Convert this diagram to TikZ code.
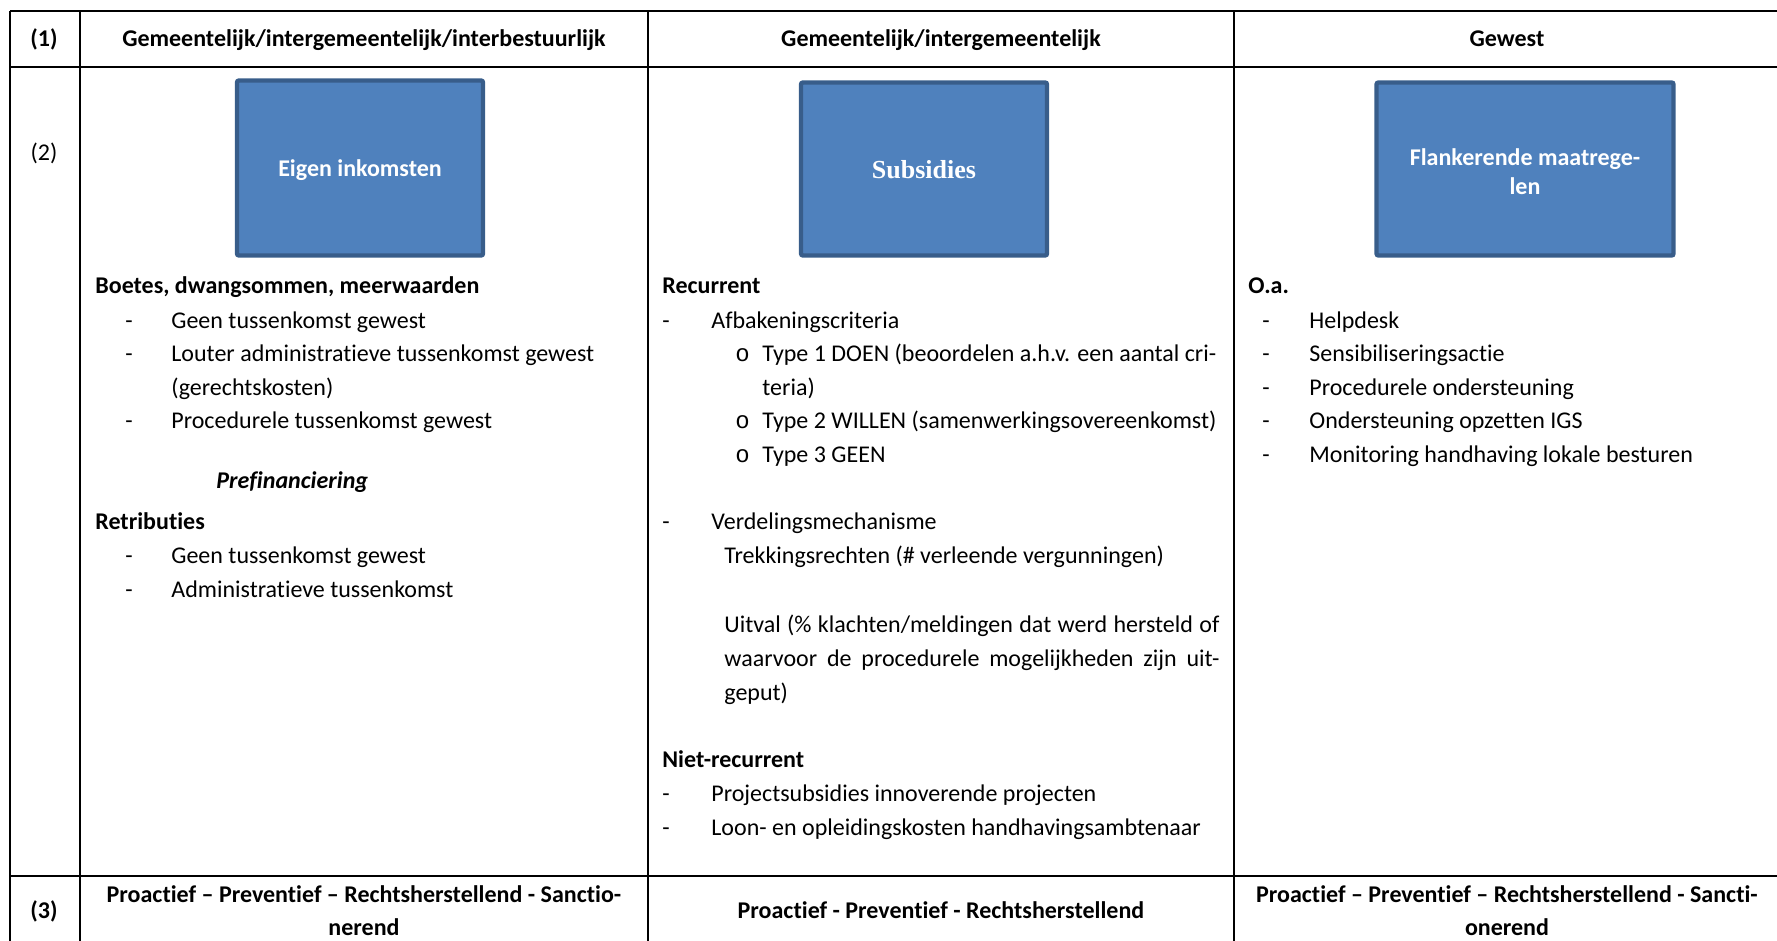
\documentclass[tikz,border=0pt]{standalone}
\usepackage{fontspec}
\setmainfont{Carlito}[Ligatures=NoCommon]
\newfontfamily\serifbox{Liberation Serif}
\newfontfamily\bulletfont{Liberation Mono}
\usepackage{xcolor}
\definecolor{boxblue}{HTML}{4F81BD}
\definecolor{boxedge}{HTML}{385D8A}
\newcommand{\listItem}[5]{%
  \node[txt] (#1Dash) at (#2,#4) {-};
  \node[txt] (#1) at (#3,#4) {#5};}
\newcommand{\subItem}[3]{%
  \node[txt] (#1Bul) at (735,#2) {\bulletfont o};
  \node[txt] (#1) at (762,#2) {#3};}

\begin{document}
\begin{tikzpicture}[x=0.5pt, y=-0.5pt,
    txt/.style={anchor=base west, inner sep=0pt, font=\fontsize{12}{14.5}\selectfont},
    hd/.style={txt, font=\fontsize{12}{14.5}\selectfont\bfseries},
    ctr/.style={anchor=base, inner sep=0pt, font=\fontsize{12}{14.5}\selectfont\bfseries},
    bluebox/.style={draw=boxedge, line width=2.2pt, fill=boxblue, rounded corners=1pt,
      text=white, align=center, inner sep=0pt, font=\fontsize{12}{14.5}\selectfont\bfseries},
    tableline/.style={line width=1.1pt}]
    \useasboundingbox (0,0) rectangle (1777,941);

    % Grid
    \draw[tableline] (10,11) -- (1777,11);
    \draw[tableline] (10,67) -- (1777,67);
    \draw[tableline, line width=1.4pt] (10,876) -- (1777,876);
    \foreach \xx in {10, 80, 648, 1234}
        \draw[tableline] (\xx,11) -- (\xx,941);

    % Blue boxes
    \node[bluebox, minimum width=123pt, minimum height=87.5pt, text height=10.5pt] (EigenBox) at (360,168) {Eigen inkomsten};
    \node[bluebox, minimum width=123pt, minimum height=86.5pt, text height=10pt, text depth=0pt,
      font=\serifbox\fontsize{13}{15}\selectfont\bfseries] (SubsBox) at (924,169) {Subsidies};
    \node[bluebox, minimum width=148.5pt, minimum height=86.5pt, text height=25.5pt] (FlankBox) at (1525,169) {Flankerende maatrege-\\len};

    \begin{scope}[yshift=-0.6pt]
    % Header row
    \node[ctr] (RowOne) at (44,45) {(1)};
    \node[ctr] (HeadLeft) at (364,45) {Gemeentelijk/intergemeentelijk/interbestuurlijk};
    \node[ctr] (HeadMid) at (941,45) {Gemeentelijk/intergemeentelijk};
    \node[ctr] (HeadRight) at (1507,45) {Gewest};
    \node[ctr, font=\fontsize{12}{14.5}\selectfont] (RowTwo) at (44,159) {(2)};

    % Left column
    \node[hd] (Boetes) at (95,292) {Boetes, dwangsommen, meerwaarden};
    \listItem{GeenA}{125}{171}{327}{Geen tussenkomst gewest}
    \listItem{Louter}{125}{171}{360}{Louter administratieve tussenkomst gewest}
    \node[txt] (Gerecht) at (171,394) {(gerechtskosten)};
    \listItem{ProcA}{125}{171}{427}{Procedurele tussenkomst gewest}
    \node[hd, font=\fontsize{12}{14.5}\selectfont\bfseries\itshape] (Prefin) at (216,487) {Prefinanciering};
    \node[hd] (Retrib) at (95,528) {Retributies};
    \listItem{GeenB}{125}{171}{562}{Geen tussenkomst gewest}
    \listItem{Admin}{125}{171}{596}{Administratieve tussenkomst}

    % Middle column
    \node[hd] (Recur) at (662,292) {Recurrent};
    \listItem{Afbak}{662}{711}{327}{Afbakeningscriteria}
    \subItem{TypeOne}{360}{Type 1 DOEN (beoordelen a.h.v. een aantal cri-}
    \node[txt] (Teria) at (762,394) {teria)};
    \subItem{TypeTwo}{427}{Type 2 WILLEN (samenwerkingsovereenkomst)}
    \subItem{TypeThree}{461}{Type 3 GEEN}
    \listItem{Verdel}{662}{711}{528}{Verdelingsmechanisme}
    \node[txt] (Trek) at (724,562) {Trekkingsrechten (\# verleende vergunningen)};
    \node[txt] (UitvalA) at (724,631) {\makebox[247.5pt][s]{Uitval (\% klachten/meldingen dat werd hersteld of}};
    \node[txt] (UitvalB) at (724,665) {\makebox[247.5pt][s]{waarvoor de procedurele mogelijkheden zijn uit-}};
    \node[txt] (UitvalC) at (724,699) {geput)};
    \node[hd] (NietRec) at (662,766) {Niet-recurrent};
    \listItem{Project}{662}{711}{800}{Projectsubsidies innoverende projecten}
    \listItem{Loon}{662}{711}{834}{Loon- en opleidingskosten handhavingsambtenaar}

    % Right column
    \node[hd] (Oa) at (1248,292) {O.a.};
    \listItem{Help}{1262}{1309}{327}{Helpdesk}
    \listItem{Sensi}{1262}{1309}{360}{Sensibiliseringsactie}
    \listItem{ProcB}{1262}{1309}{394}{Procedurele ondersteuning}
    \listItem{Opzet}{1262}{1309}{427}{Ondersteuning opzetten IGS}
    \listItem{Monit}{1262}{1309}{461}{Monitoring handhaving lokale besturen}

    % Bottom row
    \node[ctr] (RowThree) at (44,917) {(3)};
    \node[ctr] (FootLeftA) at (364,901) {Proactief – Preventief – Rechtsherstellend - Sanctio-};
    \node[ctr] (FootLeftB) at (364,934) {nerend};
    \node[ctr] (FootMid) at (941,917) {Proactief - Preventief - Rechtsherstellend};
    \node[ctr] (FootRightA) at (1507,901) {Proactief – Preventief – Rechtsherstellend - Sancti-};
    \node[ctr] (FootRightB) at (1507,934) {onerend};
    \end{scope}

\end{tikzpicture}
\end{document}
